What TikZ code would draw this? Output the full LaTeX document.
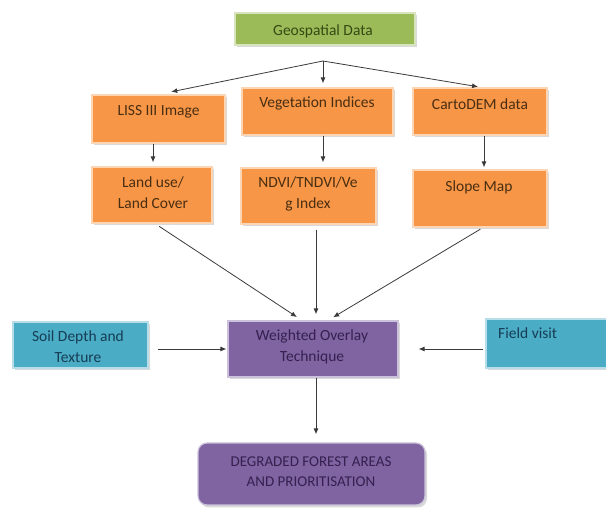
\documentclass[tikz,border=0pt]{standalone}
\usepackage{fontspec}
\setmainfont{Carlito}
\usetikzlibrary{arrows.meta,shadows,calc}
\definecolor{cgreen}{HTML}{9BBB59}
\definecolor{corange}{HTML}{F79646}
\definecolor{cpurple}{HTML}{8064A2}
\definecolor{cblue}{HTML}{4BACC6}
\definecolor{tgreen}{HTML}{344A12}
\definecolor{torange}{HTML}{4A2E12}
\definecolor{tpurple}{HTML}{35204F}
\definecolor{tblue}{HTML}{173D55}
\definecolor{cline}{HTML}{3A3A3A}
\begin{document}
\begin{tikzpicture}[x=1pt,y=-1pt,
  box/.style={fill=#1, draw=#1!40!white, line width=1.2pt, inner sep=0pt,
    drop shadow={shadow xshift=2pt, shadow yshift=-2.5pt, opacity=0.3, fill=gray}},
  lbl/.style={font=\fontsize{15.5}{21}\selectfont, align=center, inner sep=0pt},
  conn/.style={draw=cline, line width=0.8pt, -{Latex[length=6pt,width=5pt]}}]
\useasboundingbox (0,0) rectangle (606,510);
% boxes
\node[box=cgreen, minimum width=180pt, minimum height=32pt] (geo) at (325,29) {};
\node[box=corange, minimum width=133pt, minimum height=48pt] (liss) at (158.5,119) {};
\node[box=corange, minimum width=151pt, minimum height=47pt] (veg) at (317.5,111.5) {};
\node[box=corange, minimum width=134pt, minimum height=47pt] (carto) at (480,111.5) {};
\node[box=corange, minimum width=120pt, minimum height=56pt] (land) at (152,195) {};
\node[box=corange, minimum width=135pt, minimum height=56pt] (ndvi) at (308.5,196) {};
\node[box=corange, minimum width=134pt, minimum height=57pt] (slope) at (480,198.5) {};
\node[box=cblue, minimum width=135pt, minimum height=46pt] (soil) at (80.5,345) {};
\node[box=cpurple, minimum width=170pt, minimum height=56pt] (wot) at (313,349) {};
\node[box=cblue, minimum width=130pt, minimum height=49pt] (field) at (551,343.5) {};
\node[box=cpurple, rounded corners=9pt, minimum width=227pt, minimum height=62pt] (degr) at (311.5,474) {};
% labels
\node[lbl, text=tgreen] (geot) at (323,31) {Geospatial Data};
\node[lbl, text=torange] (lisst) at (158.5,112) {LISS III Image};
\node[lbl, text=torange] (vegt) at (317,103) {Vegetation Indices};
\node[lbl, text=torange] (cartot) at (480,104) {CartoDEM data};
\node[lbl, text=torange] (landt) at (153,192.5) {Land use/\\Land Cover};
\node[lbl, text=torange] (ndvit) at (308,194) {NDVI/TNDVI/Ve\\g Index};
\node[lbl, text=torange] (slopet) at (479,187) {Slope Map};
\node[lbl, text=tblue] (soilt) at (78,346.5) {Soil Depth and\\Texture};
\node[lbl, text=tpurple] (wott) at (312,347) {Weighted Overlay\\Technique};
\node[lbl, text=tblue, anchor=west] (fieldt) at (498,333) {Field visit};
\node[lbl, text=tpurple, font=\fontsize{15}{20}\selectfont] (degrt) at (311,472) {DEGRADED FOREST AREAS\\AND PRIORITISATION};
% connectors
\coordinate (fan) at (323,61);
\draw[conn, shorten >=13pt] (fan) -- (liss.north);
\draw[conn, shorten >=4pt] (fan) -- (veg.north -| fan);
\draw[conn, shorten >=4pt] (fan) -- ([xshift=2pt]carto.north);
\draw[conn, shorten >=4pt] ([xshift=1pt]land.north |- liss.south) -- ([xshift=1pt]land.north);
\draw[conn, shorten >=5pt] ([xshift=5.5pt]veg.south) -- ([xshift=5.5pt]veg.south |- ndvi.north);
\draw[conn, shorten >=2pt] ([xshift=4pt]carto.south) -- ([xshift=4pt]carto.south |- slope.north);
\draw[conn, shorten <=5pt, shorten >=6pt] ([xshift=3pt]land.south) -- ([xshift=-11pt]wot.north);
\draw[conn, shorten <=5pt, shorten >=6pt] ([xshift=7.5pt]ndvi.south) -- ([xshift=3pt]wot.north);
\draw[conn, shorten <=3pt, shorten >=6pt] ([xshift=3pt]slope.south) -- ([xshift=15pt]wot.north);
\draw[conn, shorten <=9pt, shorten >=1pt] (soil.east |- wot.west) -- (wot.west);
\draw[conn, shorten <=2pt, shorten >=20pt] (field.west |- wot.east) -- (wot.east);
\draw[conn, shorten >=8pt] ([xshift=3pt]wot.south) -- ([xshift=3pt]wot.south |- degr.north);
\end{tikzpicture}
\end{document}
